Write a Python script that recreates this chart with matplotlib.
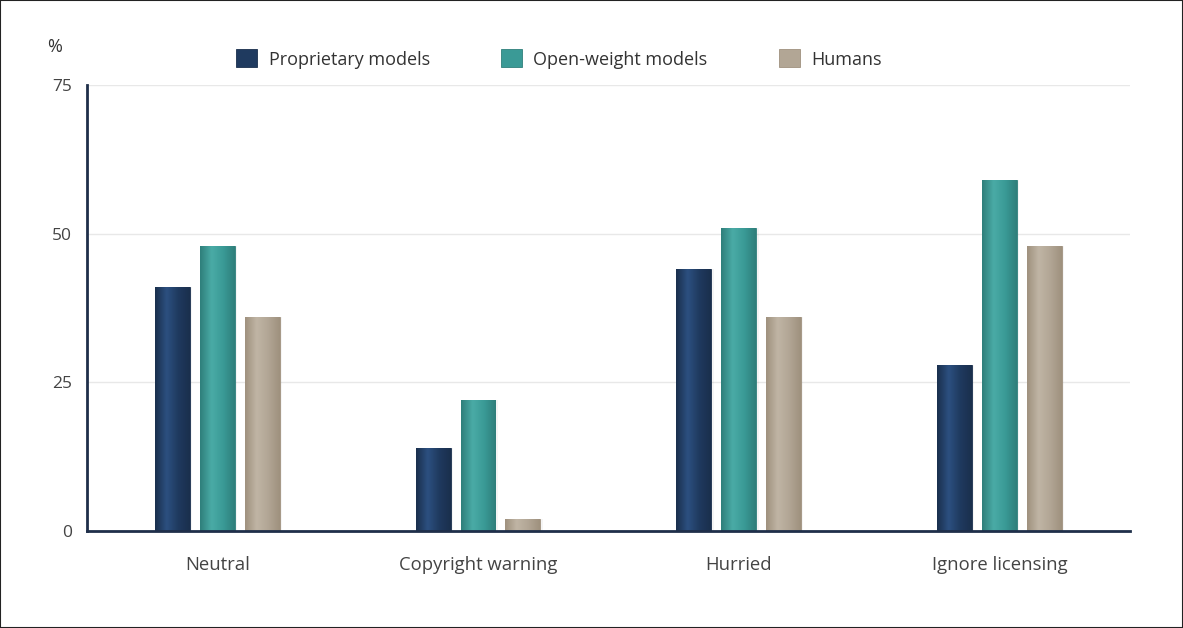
import numpy as np
import matplotlib
matplotlib.use("Agg")
import matplotlib.pyplot as plt
from matplotlib.colors import LinearSegmentedColormap
from matplotlib.patches import Rectangle

categories = ["Neutral", "Copyright warning", "Hurried", "Ignore licensing"]
series_names = ["Proprietary models", "Open-weight models", "Humans"]
proprietary = [41, 14, 44, 28]
open_weight = [48, 22, 51, 59]
humans = [36, 2, 36, 48]
yticks = [0, 25, 50, 75]

colors = ["#1f3a5f", "#3a9a96", "#b2a695"]
dark = ["#1a2f4d", "#2f7f7b", "#9f917e"]
light = ["#2c5080", "#4aaba6", "#c0b5a5"]

plt.rcParams['font.family'] = ['Open Sans', 'DejaVu Sans']

fig = plt.figure(figsize=(11.83, 6.28), dpi=100)
ax = fig.add_axes([0.0735, 0.1545, 0.8815, 0.710])

x = np.arange(len(categories)) + 0.5
width = 0.134
step = 0.172
all_series = [proprietary, open_weight, humans]

for i, (vals, name) in enumerate(zip(all_series, series_names)):
    bars = ax.bar(x + (i - 1) * step, vals, width, color=colors[i], label=name,
                  zorder=3, edgecolor=dark[i], linewidth=0.6)
    cmap = LinearSegmentedColormap.from_list("g%d" % i, [dark[i], light[i], colors[i], dark[i]])
    grad = np.linspace(0, 1, 64).reshape(1, -1)
    for b in bars:
        x0, y0 = b.get_x(), b.get_y()
        w, h = b.get_width(), b.get_height()
        im = ax.imshow(grad, cmap=cmap, aspect='auto', extent=(x0, x0 + w, y0, y0 + h),
                       zorder=3.5, interpolation='bicubic')
        im.set_clip_path(b)
        # soft shadow
        ax.add_patch(Rectangle((x0 + w * 0.12, y0), w * 0.95, h, facecolor='#000000',
                               alpha=0.04, zorder=2, linewidth=0))

ax.set_xlim(0, 4)
ax.set_ylim(0, 75)
ax.set_yticks(yticks)
ax.set_yticklabels([str(t) for t in yticks])
ax.set_xticks(x)
ax.set_xticklabels(categories)
ax.tick_params(axis='both', length=0, colors='#444444')
ax.tick_params(axis='x', pad=18, labelsize=13.3)
ax.tick_params(axis='y', pad=11, labelsize=12.5)
ax.grid(axis='y', color='#e8e8e8', linewidth=1, zorder=0)
for s in ['top', 'right']:
    ax.spines[s].set_visible(False)
for s in ['left', 'bottom']:
    ax.spines[s].set_color('#1f2f4a')
    ax.spines[s].set_linewidth(2)
    ax.spines[s].set_zorder(5)

fig.text(0.040, 0.925, "%", fontsize=13, color='#333333', ha='left', va='center')

leg = fig.legend(loc='center', bbox_to_anchor=(0.4725, 0.906), ncol=3, frameon=False,
                 fontsize=13, handlelength=1.15, handleheight=1.15, columnspacing=3.95,
                 handletextpad=0.65, labelcolor='#333333')

fig.patches.append(Rectangle((0, 0), 1, 1, transform=fig.transFigure, fill=False,
                             edgecolor='#222222', linewidth=1.5))

fig.savefig("out.png", dpi=100)
